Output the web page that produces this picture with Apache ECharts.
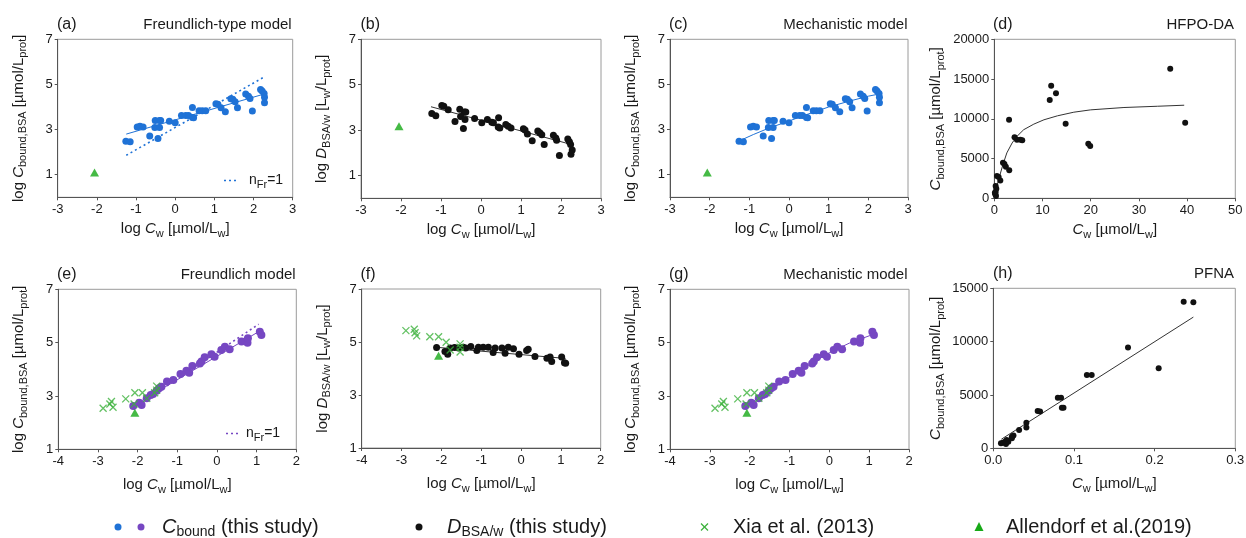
<!DOCTYPE html>
<html><head><meta charset="utf-8">
<script src="https://cdn.jsdelivr.net/npm/echarts@6/dist/echarts.min.js"></script>
<style>html,body{margin:0;padding:0;background:#fff}#c{width:1246px;height:538px}</style>
</head><body><div id="c"></div>
<script>
// ---------- DATA ----------
// Panels (a)/(c): log C_bound (blue, this study, HFPO-DA)
const boundTopX = [-1.26,-1.15,-0.97,-0.90,-0.82,-0.65,-0.51,-0.40,-0.37,-0.52,-0.40,-0.44,-0.15,0.0,0.16,0.27,0.34,0.44,0.44,0.47,0.61,0.69,0.78,1.04,1.09,1.17,1.28,1.42,1.47,1.53,1.59,1.80,1.87,1.91,1.97,2.18,2.22,2.27,2.28,2.28];
const boundTopY = [2.48,2.46,3.12,3.15,3.12,2.72,3.40,3.40,3.40,3.09,3.09,2.61,3.37,3.30,3.62,3.62,3.62,3.98,3.53,3.52,3.84,3.84,3.84,4.14,4.12,3.97,3.79,4.37,4.34,4.23,3.97,4.58,4.48,4.38,3.82,4.78,4.71,4.60,4.43,4.19];
// Panel (b): log D_BSA/w (black)
const distTopX = [-1.23,-1.13,-0.98,-0.93,-0.82,-0.65,-0.53,-0.42,-0.38,-0.51,-0.40,-0.44,-0.16,0.02,0.16,0.27,0.31,0.44,0.43,0.47,0.62,0.68,0.75,1.06,1.10,1.16,1.28,1.42,1.47,1.52,1.58,1.81,1.87,1.89,1.96,2.17,2.21,2.24,2.28,2.25];
const distTopY = [3.73,3.63,4.09,4.05,3.90,3.38,3.92,3.80,3.80,3.60,3.47,3.07,3.51,3.33,3.47,3.35,3.33,3.55,3.14,3.09,3.25,3.17,3.09,3.06,3.01,2.83,2.53,2.96,2.89,2.80,2.37,2.78,2.65,2.56,1.88,2.61,2.49,2.37,2.13,1.94];
// Fit lines, top row
const fitAX = [-1.25, 2.28], fitAY = [2.80, 4.58];
const unitAX = [-1.25, 2.28], unitAY = [1.86, 5.34];
const fitBX = [-1.25, 2.28], fitBY = [4.03, 2.36];
const mechCX = [-1.25,-0.9,-0.5,0,0.5,1.0,1.5,2.0,2.28];
const mechCY = [2.50,2.78,3.07,3.38,3.70,4.00,4.25,4.48,4.58];
// Allendorf et al. (2019) single points
const allTopBoundX = [-2.06], allTopBoundY = [1.10];
const allTopDistX = [-2.05], allTopDistY = [3.17];
// Panel (d): HFPO-DA, linear scale
const dX = [0.28,0.42,0.28,0.20,0.35,0.12,0.55,0.90,1.25,1.80,2.10,2.40,3.10,3.06,4.20,4.70,5.40,5.80,11.5,11.8,12.8,14.8,19.5,19.9,36.5,39.6];
const dY = [1540,1210,790,500,290,700,2790,2670,2250,4460,4330,3960,3540,9875,7670,7375,7375,7290,12375,14170,13210,9375,6875,6580,16290,9500];
const dCurveX = [0.05,0.14,0.55,1.1,1.8,2.6,3.7,4.7,6.1,8.2,10.3,13.1,16.5,20,26.9,33.9,39.4];
const dCurveY = [80,290,1540,2790,4250,5710,6960,7790,8630,9330,9875,10375,10830,11125,11420,11580,11710];
// Panels (e)/(g): log C_bound (purple, PFNA)
const boundBotX = [-2.11,-1.96,-1.90,-1.77,-1.67,-1.61,-1.52,-1.46,-1.40,-1.26,-1.10,-0.92,-0.77,-0.70,-0.62,-0.43,-0.39,-0.31,-0.14,-0.06,0.11,0.20,0.32,0.62,0.77,0.78,1.08,1.12];
const boundBotY = [2.62,2.75,2.66,2.91,3.04,3.07,3.20,3.29,3.35,3.54,3.60,3.82,3.95,3.87,4.12,4.22,4.29,4.45,4.56,4.47,4.72,4.85,4.75,5.04,5.00,5.16,5.41,5.29];
// Xia et al. (2013)
const xiaBoundX = [-2.87,-2.70,-2.66,-2.62,-2.30,-2.07,-2.09,-1.88,-1.77,-1.57,-1.52,-1.52];
const xiaBoundY = [2.54,2.70,2.79,2.58,2.89,3.12,2.70,3.12,2.91,3.12,3.37,3.22];
const xiaDistX = [-2.89,-2.68,-2.66,-2.62,-2.29,-2.07,-1.88,-1.78,-1.53,-1.53,-1.53];
const xiaDistY = [5.43,5.48,5.35,5.23,5.20,5.20,4.99,4.70,4.93,4.80,4.62];
const allBotBoundX = [-2.07], allBotBoundY = [2.37];
const allBotDistX = [-2.07], allBotDistY = [4.48];
// Panel (f): log D_BSA/w (black, PFNA)
const distBotX = [-2.12,-1.91,-1.84,-1.78,-1.67,-1.57,-1.45,-1.39,-1.26,-1.11,-1.07,-0.95,-0.82,-0.70,-0.65,-0.48,-0.40,-0.32,-0.19,-0.05,0.14,0.18,0.35,0.65,0.73,0.77,1.02,1.09,1.12];
const distBotY = [4.79,4.64,4.54,4.77,4.79,4.77,4.80,4.77,4.83,4.68,4.80,4.80,4.80,4.60,4.77,4.77,4.58,4.80,4.75,4.54,4.68,4.73,4.45,4.39,4.43,4.26,4.43,4.22,4.20];
const fitEX = [-2.15, 1.05], fitEY = [2.60, 5.41];
const unitEX = [-2.10, 1.05], unitEY = [2.54, 5.69];
const fitFX = [-2.12, 1.12], fitFY = [4.80, 4.38];
const mechGX = [-2.12,-1.5,-1.0,-0.5,0,0.5,1.1];
const mechGY = [2.60,3.20,3.70,4.18,4.62,4.98,5.31];
// Panel (h): PFNA, linear scale
const hX = [0.0095,0.012,0.0145,0.0166,0.0186,0.0157,0.023,0.025,0.023,0.032,0.041,0.041,0.055,0.058,0.080,0.084,0.085,0.087,0.116,0.122,0.167,0.205,0.236,0.248];
const hY = [470,530,625,780,625,405,1090,1190,940,1720,2400,1940,3500,3440,4750,4750,3810,3810,6875,6875,9440,7500,13750,13690];
const hLineX = [0.01, 0.248], hLineY = [850, 12300];
// tick labels
const logTicks = [1,3,5,7];

// ---------- STYLE ----------
const FONT = '"Liberation Sans", Arial, sans-serif';
const TXT = '#1a1a1a';
const BLUE = '#1f72d6', PURPLE = '#7647c2', GREEN_X = '#3cb23c', GREEN_T = '#17a917', BLACK = '#111111';
const AX = '#555';
const rich = {
  i: {fontStyle:'italic', fontSize:15, lineHeight:20, fontFamily:FONT, color:TXT},
  s: {fontSize:11, lineHeight:10, verticalAlign:'bottom', fontFamily:FONT, color:TXT}
};
const zip = (xs, ys) => xs.map((x, i) => [x, ys[i]]);
const plain = v => String(v);

const grids = [
  {left:57.7, top:39.3, width:235, height:158},
  {left:361, top:39.3, width:240, height:159},
  {left:670, top:39.3, width:238, height:158},
  {left:994.3, top:39.3, width:241, height:159},
  {left:58.3, top:289.3, width:238, height:160},
  {left:361.7, top:289, width:239, height:159},
  {left:670, top:289.3, width:239, height:160},
  {left:993.3, top:288.3, width:242, height:160}
].map(g => Object.assign(g, {show:true, borderColor:'#9a9a9a', borderWidth:1, containLabel:false, outerBoundsMode:'none'}));

function xAxis(gi, min, max, interval, gap, name, fmt) {
  return {gridIndex:gi, type:'value', min, max, interval, name, nameLocation:'middle', nameGap:gap,
    nameTextStyle:{fontSize:15, lineHeight:20, fontFamily:FONT, color:TXT, rich},
    axisLine:{show:true, onZero:false, lineStyle:{color:AX, width:1}},
    axisTick:{show:true, inside:false, length:3, lineStyle:{color:AX}},
    axisLabel:{fontSize:13, color:TXT, fontFamily:FONT, margin:6, formatter:fmt || plain},
    splitLine:{show:false}};
}
function yAxis(gi, min, max, interval, gap, name, custom) {
  const a = {gridIndex:gi, type:'value', min, max, interval, name, nameLocation:'middle', nameGap:gap, nameRotate:90,
    nameTextStyle:{fontSize:15, lineHeight:20, fontFamily:FONT, color:TXT, rich},
    axisLine:{show:true, onZero:false, lineStyle:{color:AX, width:1}},
    axisTick:{show:true, inside:false, length:3, lineStyle:{color:AX}},
    axisLabel:{fontSize:13, color:TXT, fontFamily:FONT, margin:5, formatter:plain},
    splitLine:{show:false}};
  if (custom) { a.axisTick.customValues = custom; a.axisLabel.customValues = custom; }
  return a;
}
const nmLogCw = 'log {i|C}{s|w} [µmol/L{s|w}]';
const nmCw = '{i|C}{s|w} [µmol/L{s|w}]';
const nmLogCb = 'log {i|C}{s|bound,BSA} [µmol/L{s|prot}]';
const nmCb = '{i|C}{s|bound,BSA} [µmol/L{s|prot}]';
const nmLogD = 'log {i|D}{s|BSA/w} [L{s|w}/L{s|prot}]';

const xAxes = [
  xAxis(0,-3,3,1,22,nmLogCw), xAxis(1,-3,3,1,22,nmLogCw), xAxis(2,-3,3,1,22,nmLogCw),
  xAxis(3,0,50,10,22,nmCw),
  xAxis(4,-4,2,1,26,nmLogCw), xAxis(5,-4,2,1,26,nmLogCw), xAxis(6,-4,2,1,26,nmLogCw),
  xAxis(7,0,0.3,0.1,26,nmCw, v => v.toFixed(1))
];
const yAxes = [
  yAxis(0,0,7,1,29,nmLogCb,logTicks), yAxis(1,0,7,1,29,nmLogD,logTicks), yAxis(2,0,7,1,29,nmLogCb,logTicks),
  yAxis(3,0,20000,5000,48,nmCb),
  yAxis(4,1,7,1,29,nmLogCb,logTicks), yAxis(5,1,7,1,29,nmLogD,logTicks), yAxis(6,1,7,1,29,nmLogCb,logTicks),
  yAxis(7,0,15000,5000,47,nmCb)
];

function dots(gi, xs, ys, color, size) {
  return {type:'scatter', xAxisIndex:gi, yAxisIndex:gi, data:zip(xs,ys), symbol:'circle', symbolSize:size,
    itemStyle:{color, opacity:1}, z:3};
}
function xs(gi, xv, yv) {
  return {type:'scatter', xAxisIndex:gi, yAxisIndex:gi, data:zip(xv,yv), symbol:'path://M0,0L10,10M10,0L0,10',
    symbolSize:7, itemStyle:{color:'none', borderColor:GREEN_X, borderWidth:1.3}, z:4};
}
function tri(gi, xv, yv) {
  return {type:'scatter', xAxisIndex:gi, yAxisIndex:gi, data:zip(xv,yv), symbol:'triangle', symbolSize:[9,8],
    itemStyle:{color:GREEN_T}, z:5};
}
function line(gi, xv, yv, color, type, width) {
  return {type:'line', xAxisIndex:gi, yAxisIndex:gi, data:zip(xv,yv), showSymbol:false, smooth:false,
    lineStyle:{color, type, width}, z:2};
}

const series = [
  // (a)
  line(0, unitAX, unitAY, BLUE, [2,3], 1.6), line(0, fitAX, fitAY, BLUE, 'solid', 1),
  dots(0, boundTopX, boundTopY, BLUE, 7), tri(0, allTopBoundX, allTopBoundY),
  // (b)
  line(1, fitBX, fitBY, '#333', 'solid', 1), dots(1, distTopX, distTopY, BLACK, 7), tri(1, allTopDistX, allTopDistY),
  // (c)
  line(2, mechCX, mechCY, BLUE, 'solid', 1), dots(2, boundTopX, boundTopY, BLUE, 7), tri(2, allTopBoundX, allTopBoundY),
  // (d)
  line(3, dCurveX, dCurveY, '#333', 'solid', 1), dots(3, dX, dY, BLACK, 6),
  // (e)
  line(4, unitEX, unitEY, PURPLE, [2,3], 1.6), line(4, fitEX, fitEY, PURPLE, 'solid', 1),
  dots(4, boundBotX, boundBotY, PURPLE, 8), xs(4, xiaBoundX, xiaBoundY), tri(4, allBotBoundX, allBotBoundY),
  // (f)
  line(5, fitFX, fitFY, '#333', 'solid', 1), dots(5, distBotX, distBotY, BLACK, 7),
  xs(5, xiaDistX, xiaDistY), tri(5, allBotDistX, allBotDistY),
  // (g)
  line(6, mechGX, mechGY, PURPLE, 'solid', 1), dots(6, boundBotX, boundBotY, PURPLE, 8),
  xs(6, xiaBoundX, xiaBoundY), tri(6, allBotBoundX, allBotBoundY),
  // (h)
  line(7, hLineX, hLineY, '#333', 'solid', 1), dots(7, hX, hY, BLACK, 6)
];

function ttl(text, pos, size) {
  return Object.assign({text, padding:0, itemGap:0,
    textStyle:{fontSize:size||15, fontWeight:'normal', lineHeight:20, fontFamily:FONT, color:TXT,
      rich:{s:{fontSize:11, lineHeight:10, verticalAlign:'bottom', fontFamily:FONT, color:TXT}}}}, pos);
}
const legRich = {
  i:{fontStyle:'italic', fontSize:20, lineHeight:24, fontFamily:FONT, color:TXT},
  s:{fontSize:14, lineHeight:12, verticalAlign:'bottom', fontFamily:FONT, color:TXT}
};
function legTxt(text, left) {
  return {text, left, top:515, padding:0,
    textStyle:{fontSize:20, fontWeight:'normal', lineHeight:24, fontFamily:FONT, color:TXT, rich:legRich}};
}
const titles = [
  ttl('(a)', {left:57, top:15}, 16), ttl('Freundlich-type model', {right:1246-291.7, top:15}),
  ttl('(b)', {left:360.5, top:15}, 16),
  ttl('(c)', {left:669, top:15}, 16), ttl('Mechanistic model', {right:1246-907.5, top:15}),
  ttl('(d)', {left:993, top:15}, 16), ttl('HFPO-DA', {right:1246-1234, top:15}),
  ttl('(e)', {left:57, top:265}, 16), ttl('Freundlich model', {right:1246-295.7, top:265}),
  ttl('(f)', {left:360.5, top:265}, 16),
  ttl('(g)', {left:669, top:265}, 16), ttl('Mechanistic model', {right:1246-907.5, top:265}),
  ttl('(h)', {left:993, top:264}, 16), ttl('PFNA', {right:1246-1234, top:264}),
  ttl('n{s|Fr}=1', {left:249, top:170}, 14),
  ttl('n{s|Fr}=1', {left:246, top:423}, 14),
  legTxt('{i|C}{s|bound} (this study)', 162),
  legTxt('{i|D}{s|BSA/w} (this study)', 447),
  legTxt('Xia et al. (2013)', 733),
  legTxt('Allendorf et al.(2019)', 1006)
];

const graphic = [
  {type:'line', shape:{x1:224, y1:180.5, x2:239, y2:180.5}, style:{stroke:BLUE, lineWidth:1.6, lineDash:[2,3]}},
  {type:'line', shape:{x1:226, y1:433.5, x2:240, y2:433.5}, style:{stroke:PURPLE, lineWidth:1.6, lineDash:[2,3]}},
  {type:'circle', shape:{cx:118, cy:527, r:3.5}, style:{fill:BLUE}},
  {type:'circle', shape:{cx:141, cy:527, r:3.5}, style:{fill:PURPLE}},
  {type:'circle', shape:{cx:419, cy:527, r:3.5}, style:{fill:BLACK}},
  {type:'line', shape:{x1:701, y1:523.5, x2:708, y2:530.5}, style:{stroke:GREEN_X, lineWidth:1.3}},
  {type:'line', shape:{x1:708, y1:523.5, x2:701, y2:530.5}, style:{stroke:GREEN_X, lineWidth:1.3}},
  {type:'polygon', shape:{points:[[979,522],[983.5,531],[974.5,531]]}, style:{fill:GREEN_T}}
];

const chart = echarts.init(document.getElementById('c'), null, {renderer:'canvas'});
chart.setOption({
  animation:false, backgroundColor:'#ffffff',
  title:titles, grid:grids, xAxis:xAxes, yAxis:yAxes, series, graphic,
  tooltip:{show:false}
});
</script></body></html>
